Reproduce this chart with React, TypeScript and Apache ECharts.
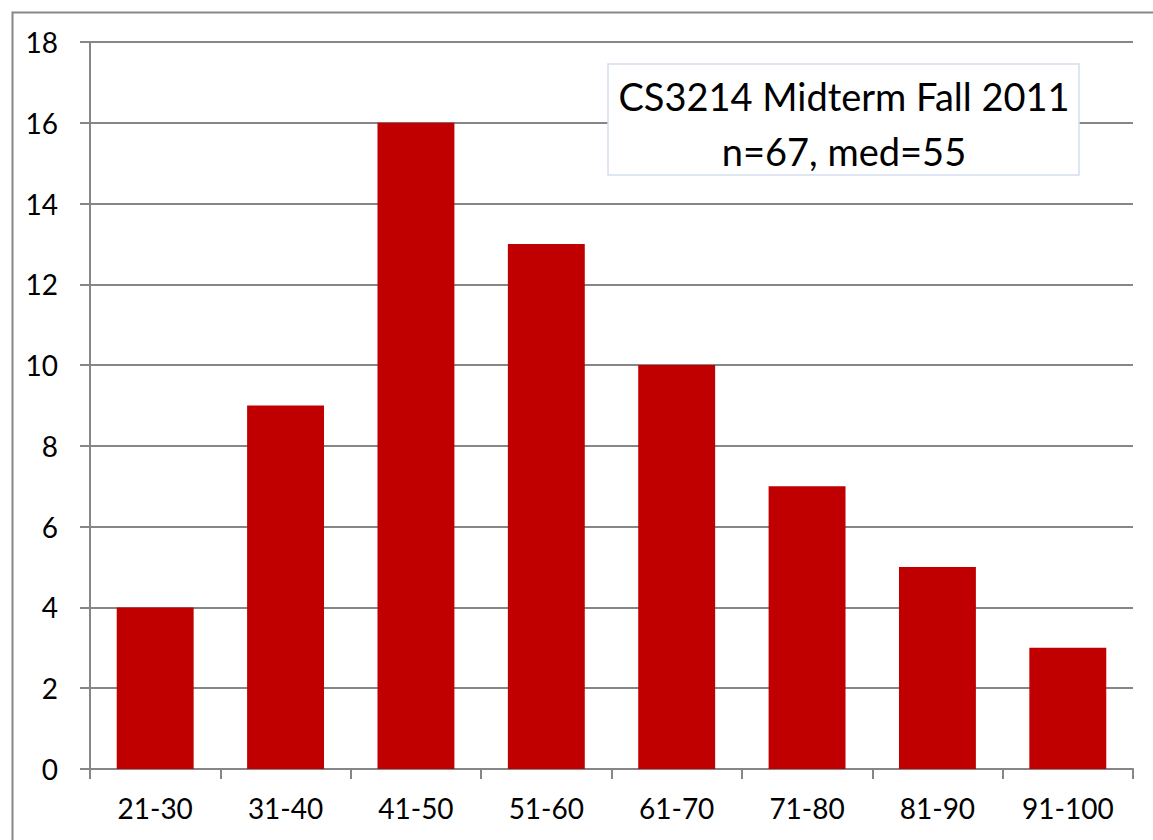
import React, { useEffect, useRef } from "react";
import * as echarts from "echarts";

const categories = ["21-30", "31-40", "41-50", "51-60", "61-70", "71-80", "81-90", "91-100"];
const counts = [4, 9, 16, 13, 10, 7, 5, 3];
const titleLines = ["CS3214 Midterm Fall 2011", "n=67, med=55"];

export default function App() {
  const ref = useRef<HTMLDivElement>(null);
  useEffect(() => {
    const chart = echarts.init(ref.current!, null, { renderer: "svg" });
    const font = "Lato";
    chart.setOption({
      animation: false,
      backgroundColor: "#ffffff",
      grid: { left: 90, right: 20, top: 42, bottom: 71, containLabel: false },
      xAxis: {
        type: "category",
        data: categories,
        axisLine: { lineStyle: { color: "#868686", width: 2 } },
        axisTick: { show: true, length: 10, lineStyle: { color: "#868686", width: 2 } },
        axisLabel: { color: "#000", fontFamily: font, fontSize: 28, margin: 25 },
      },
      yAxis: {
        type: "value",
        min: 0,
        max: 18,
        interval: 2,
        axisLine: { show: true, lineStyle: { color: "#868686", width: 2 } },
        axisTick: { show: true, length: 10, lineStyle: { color: "#868686", width: 2 } },
        splitLine: { lineStyle: { color: "#868686", width: 2 } },
        axisLabel: { color: "#000", fontFamily: font, fontSize: 28, margin: 32 },
      },
      series: [
        {
          type: "bar",
          data: counts,
          barCategoryGap: "41%",
          itemStyle: { color: "#c00000" },
        },
      ],
      graphic: [
        {
          type: "rect",
          left: 10,
          top: 10,
          shape: { width: 1300, height: 1000 },
          style: { fill: "none", stroke: "#888888", lineWidth: 2 },
          silent: true,
          z: 100,
        },
        {
          type: "rect",
          shape: { x: 608, y: 64, width: 471, height: 111 },
          style: { fill: "#ffffff", stroke: "#d3def0", lineWidth: 1.5 },
          z: 50,
        },
        {
          type: "text",
          x: 844,
          y: 96,
          style: {
            text: titleLines[0],
            fontFamily: font,
            fontSize: 38,
            fill: "#000",
            align: "center",
            verticalAlign: "middle",
          },
          z: 51,
        },
        {
          type: "text",
          x: 844,
          y: 151,
          style: {
            text: titleLines[1],
            fontFamily: font,
            fontSize: 38,
            fill: "#000",
            align: "center",
            verticalAlign: "middle",
          },
          z: 51,
        },
      ],
    });
    return () => chart.dispose();
  }, []);
  return (
    <div
      ref={ref}
      style={{ position: "absolute", left: 0, top: 0, width: 1153, height: 840 }}
    />
  );
}
